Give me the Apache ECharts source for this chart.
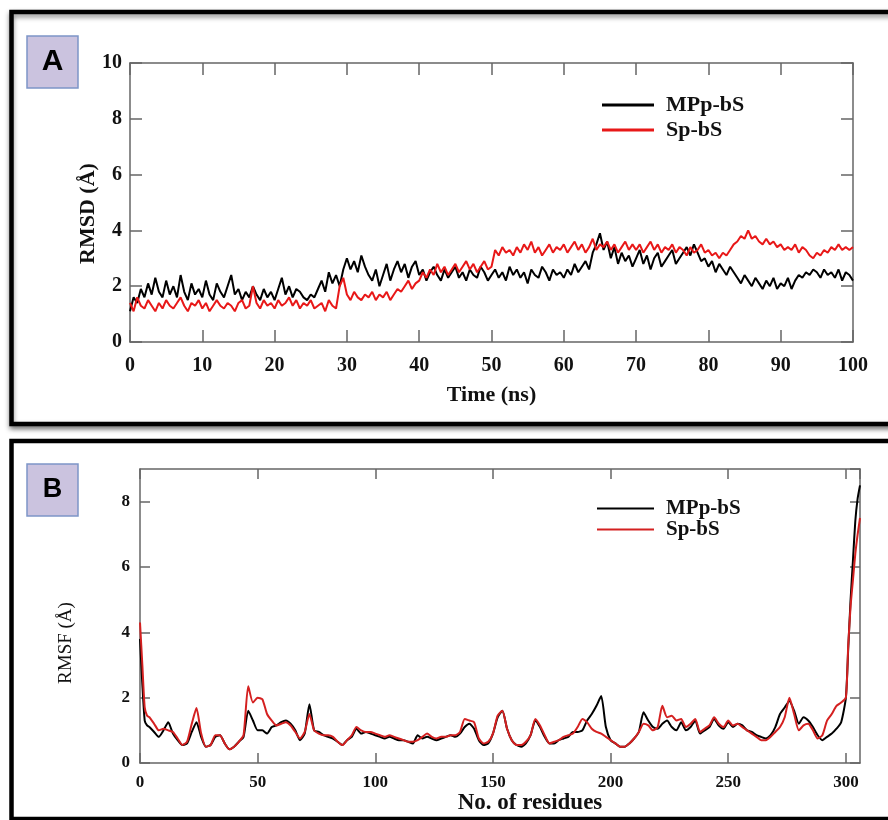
<!DOCTYPE html>
<html>
<head>
<meta charset="utf-8">
<script src="https://cdn.jsdelivr.net/npm/echarts@6/dist/echarts.min.js"></script>
<style>html,body{margin:0;padding:0;background:#fff;}#c{width:888px;height:820px;}</style>
</head>
<body>
<div id="c"></div>
<script>
// ---------- Panel A: RMSD vs time (0.5 ns steps, 0..100 ns) ----------
const seriesNames = ['MPp-bS', 'Sp-bS'];
const rmsdMPp = [
  1.1,1.6,1.4,1.9,1.6,2.1,1.7,2.3,1.8,1.6,2.2,1.7,2.0,1.6,2.4,1.8,1.5,2.1,1.7,1.9,
  1.6,2.2,1.7,1.5,2.1,1.8,1.6,2.0,2.4,1.7,1.9,1.5,1.8,1.6,2.0,1.7,1.5,1.9,1.6,1.8,
  1.5,1.9,2.3,1.7,2.0,1.6,1.9,1.8,1.6,1.5,1.7,1.6,1.9,2.2,1.8,2.5,2.1,2.4,2.0,2.6,
  3.0,2.6,2.9,2.5,3.1,2.7,2.4,2.2,2.6,2.0,2.4,2.8,2.2,2.6,2.9,2.5,2.8,2.3,2.7,2.9,
  2.4,2.6,2.2,2.5,2.7,2.4,2.2,2.6,2.3,2.5,2.7,2.3,2.5,2.2,2.6,2.4,2.3,2.7,2.5,2.2,
  2.4,2.6,2.3,2.5,2.2,2.7,2.4,2.6,2.3,2.5,2.1,2.6,2.4,2.3,2.7,2.5,2.2,2.6,2.4,2.5,
  2.3,2.6,2.4,2.8,2.5,2.7,2.9,2.6,3.2,3.5,3.9,3.3,3.6,3.0,3.4,2.8,3.2,2.9,3.1,2.7,
  3.0,3.3,2.8,3.1,2.6,3.0,3.2,2.7,2.9,3.1,3.3,2.8,3.0,3.2,3.4,3.1,3.5,3.2,2.9,3.0,
  2.7,2.9,2.5,2.8,2.6,2.4,2.7,2.5,2.3,2.1,2.4,2.2,2.0,2.3,2.1,1.9,2.2,2.0,2.3,1.9,
  2.1,2.0,2.3,1.9,2.2,2.4,2.3,2.5,2.4,2.6,2.5,2.3,2.6,2.4,2.5,2.3,2.6,2.2,2.5,2.4,
  2.2
];
const rmsdSp = [
  1.4,1.1,1.6,1.3,1.2,1.5,1.3,1.1,1.4,1.2,1.5,1.3,1.2,1.4,1.6,1.3,1.1,1.4,1.3,1.5,
  1.2,1.4,1.1,1.3,1.5,1.3,1.2,1.4,1.3,1.1,1.4,1.5,1.2,1.3,2.0,1.4,1.2,1.5,1.3,1.4,
  1.2,1.5,1.3,1.4,1.6,1.3,1.5,1.2,1.4,1.3,1.5,1.2,1.3,1.4,1.1,1.5,1.3,1.2,2.0,2.3,
  1.7,1.5,1.8,1.6,1.5,1.7,1.6,1.8,1.5,1.7,1.6,1.8,1.5,1.7,1.9,1.8,2.0,2.2,1.9,2.1,
  2.2,2.5,2.3,2.6,2.4,2.8,2.5,2.7,2.4,2.6,2.8,2.5,2.7,2.9,2.6,2.8,2.5,2.7,2.9,2.6,
  2.7,3.3,3.1,3.4,3.2,3.3,3.1,3.4,3.2,3.5,3.3,3.6,3.2,3.4,3.1,3.3,3.5,3.2,3.4,3.3,
  3.5,3.2,3.4,3.6,3.3,3.5,3.2,3.4,3.7,3.3,3.5,3.4,3.6,3.3,3.5,3.2,3.4,3.6,3.3,3.5,
  3.3,3.5,3.2,3.4,3.6,3.3,3.5,3.2,3.4,3.3,3.5,3.2,3.4,3.3,3.1,3.4,3.2,3.3,3.5,3.2,
  3.3,3.1,3.2,3.0,3.2,3.1,3.3,3.5,3.6,3.8,3.7,4.0,3.7,3.8,3.6,3.5,3.7,3.5,3.6,3.4,
  3.5,3.3,3.4,3.3,3.5,3.2,3.4,3.3,3.1,3.0,3.2,3.1,3.3,3.2,3.4,3.3,3.5,3.3,3.4,3.3,
  3.4
];
const timeStep = 0.5;
const timeTicks = [0,10,20,30,40,50,60,70,80,90,100];
const rmsdTicks = [0,2,4,6,8,10];

// ---------- Panel B: RMSF per residue ----------
const residues = [0,1,2,3];
for (let r = 4; r <= 300; r += 2) residues.push(r);
residues.push(301,302,303,304,305,306);
const rmsfMPp = [
  3.8,2.4,1.3,1.15,
  1.1,0.95,0.8,1.0,1.25,   0.9,0.7,0.55,0.6,0.95,   1.25,0.8,0.5,0.55,0.8,
  0.85,0.6,0.42,0.5,0.65,  0.8,1.6,1.3,1.0,1.0,     0.9,1.1,1.15,1.25,1.3,
  1.2,1.0,0.7,0.9,1.8,     1.0,0.95,0.85,0.8,0.75,  0.65,0.55,0.7,0.8,1.05,
  0.9,0.95,0.9,0.85,0.8,   0.75,0.8,0.75,0.7,0.7,   0.65,0.6,0.85,0.75,0.8,
  0.75,0.7,0.75,0.8,0.85,  0.8,0.9,1.1,1.2,1.05,    0.7,0.55,0.6,0.9,1.4,
  1.6,1.05,0.7,0.55,0.5,   0.6,0.85,1.3,1.1,0.8,    0.6,0.6,0.7,0.75,0.8,
  0.95,0.95,1.0,1.3,1.5,   1.75,2.05,1.1,0.7,0.6,   0.5,0.5,0.6,0.75,0.95,
  1.55,1.3,1.1,1.05,1.2,   1.3,1.1,1.0,1.25,1.0,    1.1,1.3,0.9,1.0,1.1,
  1.35,1.15,1.05,1.25,1.1, 1.2,1.15,1.0,0.95,0.85,  0.8,0.75,0.85,1.1,1.5,
  1.7,1.9,1.6,1.2,1.4,     1.3,1.1,0.85,0.7,0.8,
  0.9,1.05,1.25,2.0,
  3.5,5.0,6.2,7.4,8.1,8.5
];
const rmsfSp = [
  4.3,3.0,1.7,1.45,
  1.4,1.2,1.0,1.05,1.0,    0.95,0.75,0.55,0.65,1.2, 1.68,0.9,0.5,0.55,0.85,
  0.85,0.6,0.42,0.5,0.65,  0.85,2.35,1.85,2.0,1.95, 1.5,1.3,1.15,1.2,1.25,
  1.15,0.95,0.75,0.95,1.5, 1.0,0.9,0.85,0.85,0.8,   0.65,0.55,0.7,0.85,1.1,
  1.0,0.95,0.95,0.9,0.85,  0.8,0.85,0.8,0.75,0.7,   0.65,0.65,0.7,0.8,0.9,
  0.8,0.75,0.8,0.8,0.85,   0.85,0.95,1.35,1.3,1.25, 0.75,0.6,0.65,0.9,1.45,
  1.6,1.05,0.7,0.55,0.55,  0.65,0.85,1.35,1.15,0.85, 0.6,0.65,0.7,0.8,0.85,
  0.9,1.1,1.35,1.25,1.05,  0.95,0.9,0.8,0.7,0.6,    0.5,0.5,0.6,0.75,0.95,
  1.2,1.15,1.0,1.1,1.75,   1.4,1.45,1.3,1.35,1.1,   1.2,1.35,0.95,1.05,1.15,
  1.4,1.2,1.1,1.3,1.15,    1.2,1.1,1.0,0.9,0.8,     0.7,0.7,0.8,0.95,1.1,
  1.4,2.0,1.5,1.0,1.15,    1.2,1.0,0.75,0.85,1.3,
  1.5,1.75,1.85,2.0,
  3.6,4.8,5.6,6.4,7.0,7.5
];
const residueTicks = [0,50,100,150,200,250,300];
const rmsfTicks = [0,2,4,6,8];

// ---------- build ----------
const pairsA1 = rmsdMPp.map((v,i)=>[i*timeStep, v]);
const pairsA2 = rmsdSp.map((v,i)=>[i*timeStep, v]);
const pairsB1 = rmsfMPp.map((v,i)=>[residues[i], v]);
const pairsB2 = rmsfSp.map((v,i)=>[residues[i], v]);

const SERIF = '"Liberation Serif", "Times New Roman", serif';
const frame = {color:'#666', width:1.5};
const RED = '#e81818';
const RED_B = '#d42020';

function axisBase(extra){
  return Object.assign({
    type:'value',
    splitLine:{show:false},
    nameMoveOverlap:false,
    axisLine:{show:true, onZero:false, lineStyle:frame},
    axisTick:{show:true, inside:true, lineStyle:frame},
  }, extra);
}

const option = {
  animation:false,
  backgroundColor:'#fff',
  grid:[
    {left:130, right:35, top:63, bottom:478, show:false},
    {left:140, right:28, top:469, bottom:57, show:false}
  ],
  xAxis:[
    axisBase({gridIndex:0, position:'bottom', min:timeTicks[0], max:timeTicks[timeTicks.length-1], interval:10,
      axisTick:{show:true, inside:true, length:12, lineStyle:frame},
      axisLabel:{color:'#111', fontFamily:SERIF, fontWeight:'bold', fontSize:20, margin:14},
      name:'Time (ns)', nameLocation:'middle', nameGap:42,
      nameTextStyle:{color:'#111', fontFamily:SERIF, fontWeight:'bold', fontSize:22}}),
    axisBase({gridIndex:0, position:'top', min:0, max:100, interval:10,
      axisTick:{show:true, inside:true, length:12, lineStyle:frame},
      axisLabel:{show:false}}),
    axisBase({gridIndex:1, position:'bottom', min:0, max:306, interval:50,
      axisTick:{show:true, inside:true, length:10, lineStyle:frame},
      axisLabel:{color:'#111', fontFamily:SERIF, fontWeight:'bold', fontSize:17, margin:11, showMaxLabel:false},
      name:'No. of residues', nameLocation:'middle', nameGap:29,
      nameTextStyle:{color:'#111', fontFamily:SERIF, fontWeight:'bold', fontSize:23, padding:[0,0,0,60]}}),
    axisBase({gridIndex:1, position:'top', min:0, max:306, interval:50,
      axisTick:{show:true, inside:true, length:10, lineStyle:frame},
      axisLabel:{show:false}})
  ],
  yAxis:[
    axisBase({gridIndex:0, position:'left', min:rmsdTicks[0], max:rmsdTicks[rmsdTicks.length-1], interval:2,
      axisTick:{show:true, inside:true, length:12, lineStyle:frame},
      axisLabel:{color:'#111', fontFamily:SERIF, fontWeight:'bold', fontSize:20, margin:8},
      name:'RMSD (Å)', nameLocation:'middle', nameGap:31,
      nameTextStyle:{color:'#111', fontFamily:SERIF, fontWeight:'bold', fontSize:22, padding:[0,22,0,0]}}),
    axisBase({gridIndex:0, position:'right', min:0, max:10, interval:2,
      axisTick:{show:true, inside:true, length:12, lineStyle:frame},
      axisLabel:{show:false}}),
    axisBase({gridIndex:1, position:'left', min:0, max:9, interval:2,
      axisTick:{show:true, inside:true, length:10, lineStyle:frame},
      axisLabel:{color:'#111', fontFamily:SERIF, fontWeight:'bold', fontSize:17, margin:10, showMaxLabel:false},
      name:'RMSF (Å)', nameLocation:'middle', nameGap:64,
      nameTextStyle:{color:'#111', fontFamily:SERIF, fontWeight:'normal', fontSize:19, padding:[0,54,0,0]}}),
    axisBase({gridIndex:1, position:'right', min:0, max:9, interval:2,
      axisTick:{show:true, inside:true, length:10, lineStyle:frame},
      axisLabel:{show:false}})
  ],
  legend:[
    {orient:'vertical', left:597, top:89, itemWidth:52, itemHeight:3, itemGap:3, icon:'rect',
     data:[{name:seriesNames[0], itemStyle:{color:'#000'}}, {name:seriesNames[1], itemStyle:{color:RED}}],
     textStyle:{color:'#111', fontFamily:SERIF, fontWeight:'bold', fontSize:22, lineHeight:22, padding:[0,0,0,7]}},
    {orient:'vertical', left:592, top:493, itemWidth:57, itemHeight:2, itemGap:0, icon:'rect',
     data:[{name:seriesNames[0], itemStyle:{color:'#000'}}, {name:seriesNames[1], itemStyle:{color:RED_B}}],
     textStyle:{color:'#111', fontFamily:SERIF, fontWeight:'bold', fontSize:21, lineHeight:20, padding:[0,0,0,7]}}
  ],
  series:[
    {name:seriesNames[0], type:'line', xAxisIndex:0, yAxisIndex:0, data:pairsA1, symbol:'none',
     lineStyle:{color:'#000', width:2}, itemStyle:{color:'#000'}},
    {name:seriesNames[1], type:'line', xAxisIndex:0, yAxisIndex:0, data:pairsA2, symbol:'none',
     lineStyle:{color:RED, width:2}, itemStyle:{color:RED}},
    {name:seriesNames[0], type:'line', xAxisIndex:2, yAxisIndex:2, data:pairsB1, symbol:'none', smooth:0.2,
     lineStyle:{color:'#000', width:2}, itemStyle:{color:'#000'}},
    {name:seriesNames[1], type:'line', xAxisIndex:2, yAxisIndex:2, data:pairsB2, symbol:'none', smooth:0.2,
     lineStyle:{color:RED_B, width:2}, itemStyle:{color:RED_B}}
  ],
  graphic:[
    {type:'rect', shape:{x:11.5, y:12, width:900, height:412}, z:-1,
     style:{fill:'#fff', stroke:'#000', lineWidth:4.5, shadowBlur:5, shadowOffsetY:3, shadowColor:'rgba(0,0,0,0.45)'}},
    {type:'rect', shape:{x:11.5, y:441, width:900, height:378}, z:-1,
     style:{fill:'#fff', stroke:'#000', lineWidth:4.5}},
    {type:'rect', shape:{x:27, y:36, width:51, height:52}, style:{fill:'#cbc3df', stroke:'#7d95c8', lineWidth:1.5}},
    {type:'text', x:52.5, y:62, style:{text:'A', font:'bold 30px "Liberation Sans", Arial, sans-serif', fill:'#000', align:'center', verticalAlign:'middle'}},
    {type:'rect', shape:{x:27, y:464, width:51, height:52}, style:{fill:'#cbc3df', stroke:'#7d95c8', lineWidth:1.5}},
    {type:'text', x:52.5, y:490, style:{text:'B', font:'bold 27px "Liberation Sans", Arial, sans-serif', fill:'#000', align:'center', verticalAlign:'middle'}}
  ]
};
const chart = echarts.init(document.getElementById('c'), null, {renderer:'canvas'});
chart.setOption(option);
</script>
</body>
</html>
